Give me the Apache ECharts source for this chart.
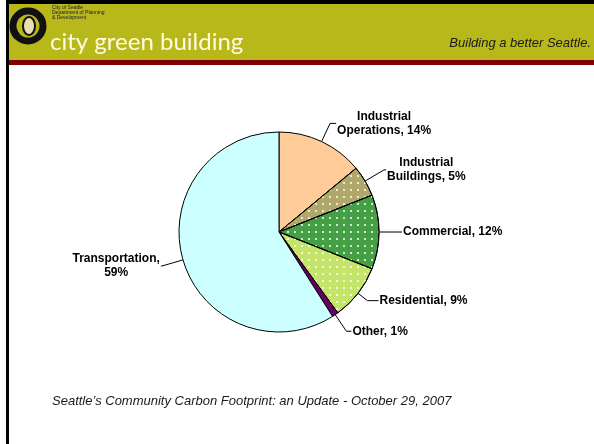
<!DOCTYPE html>
<html>
<head>
<meta charset="utf-8">
<script src="https://cdn.jsdelivr.net/npm/echarts@6/dist/echarts.min.js"></script>
<style>
html,body{margin:0;padding:0;background:#fff;}
#chart{width:594px;height:444px;}
</style>
</head>
<body>
<div id="chart"></div>
<script>
// ---- data ----
var categories = ['Industrial\nOperations', 'Industrial\nBuildings', 'Commercial', 'Residential', 'Other', 'Transportation'];
var values = [14, 5, 12, 9, 1, 59];
var breakAfterComma = ['Transportation'];
var headerTitle = 'city green building';
var headerTagline = 'Building a better Seattle.';
var deptLines = ['City of Seattle', 'Department of Planning', '& Development'];
var footerText = 'Seattle\u2019s Community Carbon Footprint: an Update - October 29, 2007';

// ---- styles ----
var sliceColors = ['#FFCC99', '#AFA86A', '#45A045', '#C4E46A', '#660066', '#CCFFFF'];
var patterned = [false, true, true, true, false, false];
var lineLens = [[20, 6], [22, 2], [10, 13], [12, 11], [20, 5], [22, 1]];
var FONT = '"Liberation Sans", Arial, sans-serif';

var chart = echarts.init(document.getElementById('chart'), null, {renderer: 'canvas'});

var pieData = categories.map(function (c, i) {
  var item = {
    name: c,
    value: values[i],
    itemStyle: {color: sliceColors[i]},
    labelLine: {length: lineLens[i][0], length2: lineLens[i][1]}
  };
  if (patterned[i]) {
    item.itemStyle.decal = {
      symbol: 'rect',
      symbolSize: 1,
      color: 'rgba(255,255,255,0.75)',
      dashArrayX: [2, 5],
      dashArrayY: [2, 5]
    };
  }
  return item;
});

function fmt(p) {
  var txt;
  if (breakAfterComma.indexOf(p.name) >= 0) {
    txt = p.name + ',\n' + p.value + '%';
  } else {
    txt = p.name + ', ' + p.value + '%';
  }
  return txt.split('\n').map(function (l) { return '{c|' + l + '}'; }).join('\n');
}

var option = {
  animation: false,
  graphic: [
    {type: 'rect', shape: {x: 9, y: 4, width: 585, height: 56}, style: {fill: '#B8B81A'}},
    {type: 'rect', shape: {x: 9, y: 60, width: 585, height: 5}, style: {fill: '#800000'}},
    {type: 'rect', shape: {x: 6, y: 0, width: 588, height: 4}, style: {fill: '#000'}},
    {type: 'rect', shape: {x: 6, y: 0, width: 3, height: 444}, style: {fill: '#000'}},
    // logo
    {type: 'arc', shape: {cx: 28, cy: 26, r: 15, startAngle: Math.PI * 0.75, endAngle: Math.PI * 1.9}, style: {stroke: '#111', lineWidth: 7, fill: null}},
    {type: 'arc', shape: {cx: 28, cy: 26, r: 15, startAngle: -Math.PI * 0.25, endAngle: Math.PI * 0.9}, style: {stroke: '#111', lineWidth: 7, fill: null}},
    {type: 'ellipse', shape: {cx: 29, cy: 26, rx: 6, ry: 9}, style: {fill: '#E8E0B0', stroke: '#111', lineWidth: 2}},
    {type: 'text', style: {text: deptLines.join('\n'), x: 52, y: 5, font: '5px ' + FONT, fill: '#1a1a40', lineHeight: 5}},
    {type: 'text', style: {text: headerTitle, x: 50, y: 42, font: '24px Lato, "Open Sans", sans-serif', fill: '#FFFCE0', textVerticalAlign: 'middle'}},
    {type: 'text', style: {text: headerTagline, x: 591, y: 43, font: 'italic 13px ' + FONT, fill: '#1a1a1a', textAlign: 'right', textVerticalAlign: 'middle'}},
    {type: 'text', style: {text: footerText, x: 52, y: 401, font: 'italic 13px ' + FONT, fill: '#1a1a1a', textVerticalAlign: 'middle'}}
  ],
  series: [{
    type: 'pie',
    center: [279, 232],
    radius: 100,
    startAngle: 90,
    clockwise: true,
    avoidLabelOverlap: false,
    silent: true,
    itemStyle: {borderColor: '#000', borderWidth: 1},
    label: {
      show: true,
      position: 'outside',
      formatter: fmt,
      distanceToLabelLine: 1,
      color: '#000',
      rich: {
        c: {align: 'center', fontFamily: FONT, fontWeight: 'bold', fontSize: 12, lineHeight: 14, color: '#000'}
      }
    },
    labelLine: {show: true, lineStyle: {color: '#000', width: 1}},
    data: pieData
  }]
};
chart.setOption(option);
</script>
</body>
</html>
